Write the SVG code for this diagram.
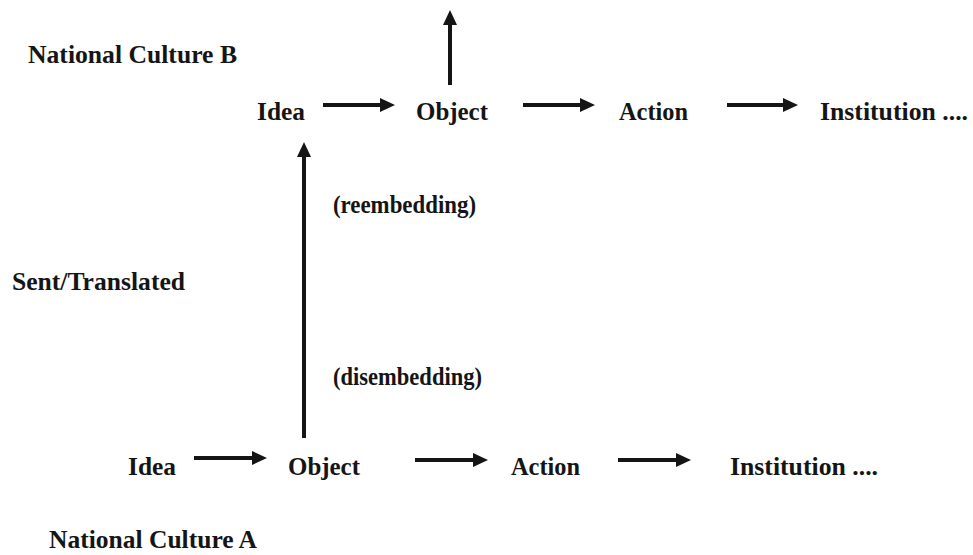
<svg xmlns="http://www.w3.org/2000/svg" width="973" height="555" viewBox="0 0 973 555">
<defs>
<style>
text{font-family:"Liberation Serif","Times New Roman",serif;font-weight:bold;font-size:26px;fill:#151515}
.c line{stroke:#151515;stroke-width:4;fill:none}
</style>
<marker id="ah" viewBox="0 -7 15 14" refX="0" refY="0" markerWidth="15" markerHeight="14" markerUnits="userSpaceOnUse" orient="auto">
<path d="M0,-7 L15,0 L0,7 z" fill="#151515"/>
</marker>
</defs>
<rect width="973" height="555" fill="#fff"/>
<g id="labels">
<text x="28" y="63" textLength="209" lengthAdjust="spacingAndGlyphs">National Culture B</text>
<text x="12" y="290" textLength="173" lengthAdjust="spacingAndGlyphs">Sent/Translated</text>
<text x="49" y="548" textLength="208" lengthAdjust="spacingAndGlyphs">National Culture A</text>
<text x="333" y="213" textLength="143" lengthAdjust="spacingAndGlyphs">(reembedding)</text>
<text x="333" y="385" textLength="149" lengthAdjust="spacingAndGlyphs">(disembedding)</text>
</g>
<g id="b-idea"><text x="257" y="120" textLength="48" lengthAdjust="spacingAndGlyphs">Idea</text></g>
<g id="b-object"><text x="416" y="120" textLength="72" lengthAdjust="spacingAndGlyphs">Object</text></g>
<g id="b-action"><text x="619" y="120" textLength="69" lengthAdjust="spacingAndGlyphs">Action</text></g>
<g id="b-institution"><text x="820" y="120" textLength="148" lengthAdjust="spacingAndGlyphs">Institution ....</text></g>
<g id="a-idea"><text x="128" y="475" textLength="48" lengthAdjust="spacingAndGlyphs">Idea</text></g>
<g id="a-object"><text x="288" y="475" textLength="72" lengthAdjust="spacingAndGlyphs">Object</text></g>
<g id="a-action"><text x="511" y="475" textLength="69" lengthAdjust="spacingAndGlyphs">Action</text></g>
<g id="a-institution"><text x="730" y="475" textLength="148" lengthAdjust="spacingAndGlyphs">Institution ....</text></g>
<g id="connectors" class="c">
<line x1="323" y1="105" x2="380" y2="105" marker-end="url(#ah)"/>
<line x1="523" y1="105" x2="580" y2="105" marker-end="url(#ah)"/>
<line x1="727" y1="105" x2="783" y2="105" marker-end="url(#ah)"/>
<line x1="450" y1="85" x2="450" y2="25" marker-end="url(#ah)"/>
<line x1="194" y1="458" x2="252" y2="458" marker-end="url(#ah)"/>
<line x1="415" y1="460" x2="473" y2="460" marker-end="url(#ah)"/>
<line x1="618" y1="460" x2="676" y2="460" marker-end="url(#ah)"/>
<line x1="304" y1="438" x2="304" y2="157" marker-end="url(#ah)"/>
</g>
</svg>
